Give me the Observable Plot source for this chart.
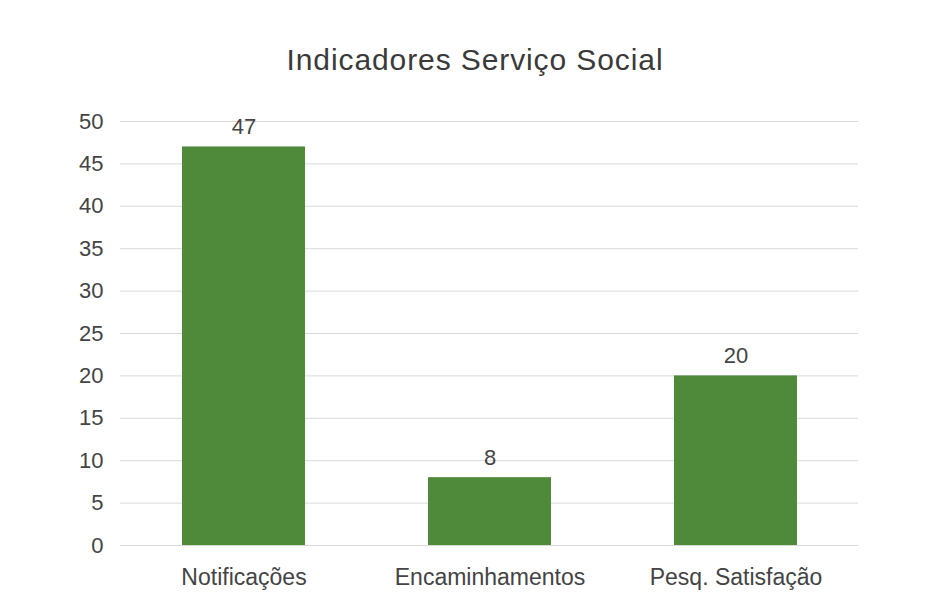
<!DOCTYPE html>
<html>
<head>
<meta charset="utf-8">
<script src="https://cdn.jsdelivr.net/npm/d3@7"></script>
<script src="https://cdn.jsdelivr.net/npm/@observablehq/plot@0.6"></script>
<style>
  body { margin: 0; background: #fff; font-family: "Liberation Sans", Arial, sans-serif; }
  #title { height: 100px; box-sizing: border-box; padding-top: 44px; padding-left: 16px; text-align: center; font-size: 30px; line-height: 32px; letter-spacing: 0.9px; color: #3a3a3a; width: 934px; }
  #chart svg { display: block; }
</style>
</head>
<body>
<div id="title">Indicadores Serviço Social</div>
<div id="chart"></div>
<script>
const categories = ["Notificações", "Encaminhamentos", "Pesq. Satisfação"];
const values = [47, 8, 20];
const yTicks = [0, 5, 10, 15, 20, 25, 30, 35, 40, 45, 50];

const data = categories.map((c, i) => ({category: c, value: values[i]}));

const chart = Plot.plot({
  width: 934,
  height: 494,
  marginTop: 21,
  marginBottom: 49,
  marginLeft: 120,
  marginRight: 76,
  style: {fontFamily: "Liberation Sans, Arial, sans-serif", fontSize: "23px", color: "#444", background: "#fff"},
  x: {domain: categories, paddingInner: 0.5, paddingOuter: 0.25, label: null},
  y: {domain: [0, 50], ticks: yTicks, label: null},
  marks: [
    Plot.gridY(yTicks, {stroke: "#d9d9d9", strokeOpacity: 1, strokeWidth: 1}),
    Plot.axisY({ticks: yTicks, tickSize: 0, tickPadding: 17, fontSize: 22, fill: "#444"}),
    Plot.axisX({tickSize: 0, tickPadding: 23, fontSize: 23, fill: "#444", style: {letterSpacing: "0.5px"}}),
    Plot.barY(data, {x: "category", y: "value", fill: "#4f8a3b"}),
    Plot.text(data, {x: "category", y: "value", text: d => String(d.value), dy: -20, fontSize: 22, fill: "#444"})
  ]
});
document.getElementById("chart").append(chart);
</script>
</body>
</html>
